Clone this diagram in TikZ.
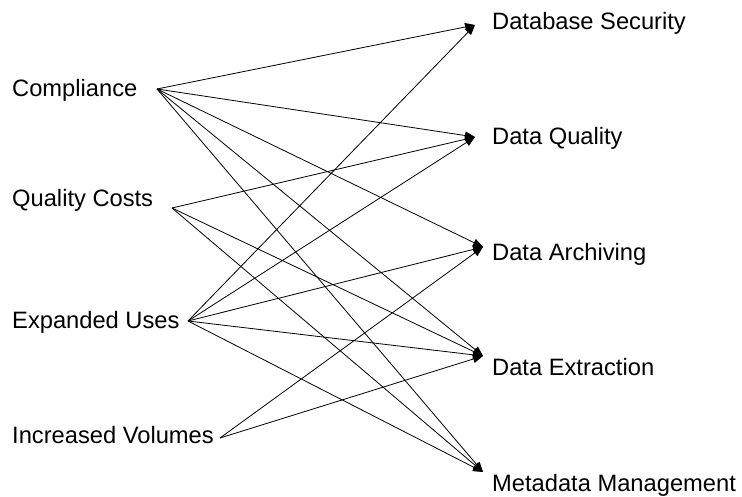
\documentclass[tikz,border=0pt]{standalone}
\usepackage{fontspec}
\setmainfont{Liberation Sans}
\usetikzlibrary{arrows.meta}
\definecolor{BLACK}{HTML}{000000}
\definecolor{WHITE}{HTML}{FFFFFF}
\tikzset{
    wordbox/.style={BLACK, inner sep=0pt, anchor=base west, font=\fontsize{23.7}{28}\selectfont},
    link/.style={BLACK, line width=0.8pt, -{Triangle[length=10pt,width=8pt]}}
}

\begin{document}
\begin{tikzpicture}[x=1pt, y=-1pt]
    \useasboundingbox[fill=WHITE] (0,0) rectangle (742,497);
    % Drivers
    \node[wordbox] (compliance) at (12,97) {Compliance};
    \node[wordbox] (qualcost) at (12,207) {Quality Costs};
    \node[wordbox] (expanded) at (12,328) {Expanded Uses};
    \node[wordbox] (volumes) at (12,443) {Increased Volumes};
    \coordinate (compliance-out) at (157,89);
    \coordinate (qualcost-out) at (172,208);
    \coordinate (expanded-out) at (188,321);
    \coordinate (volumes-out) at (220,438);
    % Areas
    \node[wordbox] (security) at (492,29.5) {Database Security};
    \node[wordbox] (quality) at (492,145) {Data Quality};
    \node[wordbox] (archiving) at (492,260.5) {Data Archiving};
    \node[wordbox] (extraction) at (492,375.5) {Data Extraction};
    \node[wordbox] (metadata) at (492,491.5) {Metadata Management};
    \coordinate (security-in) at (475,25);
    \coordinate (quality-in) at (475,137);
    \coordinate (archiving-in) at (483,247);
    \coordinate (extraction-in) at (483,356);
    \coordinate (metadata-in) at (483,472);
    % Compliance arrows
    \foreach \t in {security, quality, archiving, extraction, metadata}
        \draw[link] (compliance-out) -- (\t-in);
    % Quality costs arrows
    \foreach \t in {quality, extraction, metadata}
        \draw[link] (qualcost-out) -- (\t-in);
    % Expanded uses arrows
    \foreach \t in {security, quality, archiving, extraction, metadata}
        \draw[link] (expanded-out) -- (\t-in);
    % Increased volumes arrows
    \foreach \t in {archiving, extraction}
        \draw[link] (volumes-out) -- (\t-in);
\end{tikzpicture}
\end{document}
